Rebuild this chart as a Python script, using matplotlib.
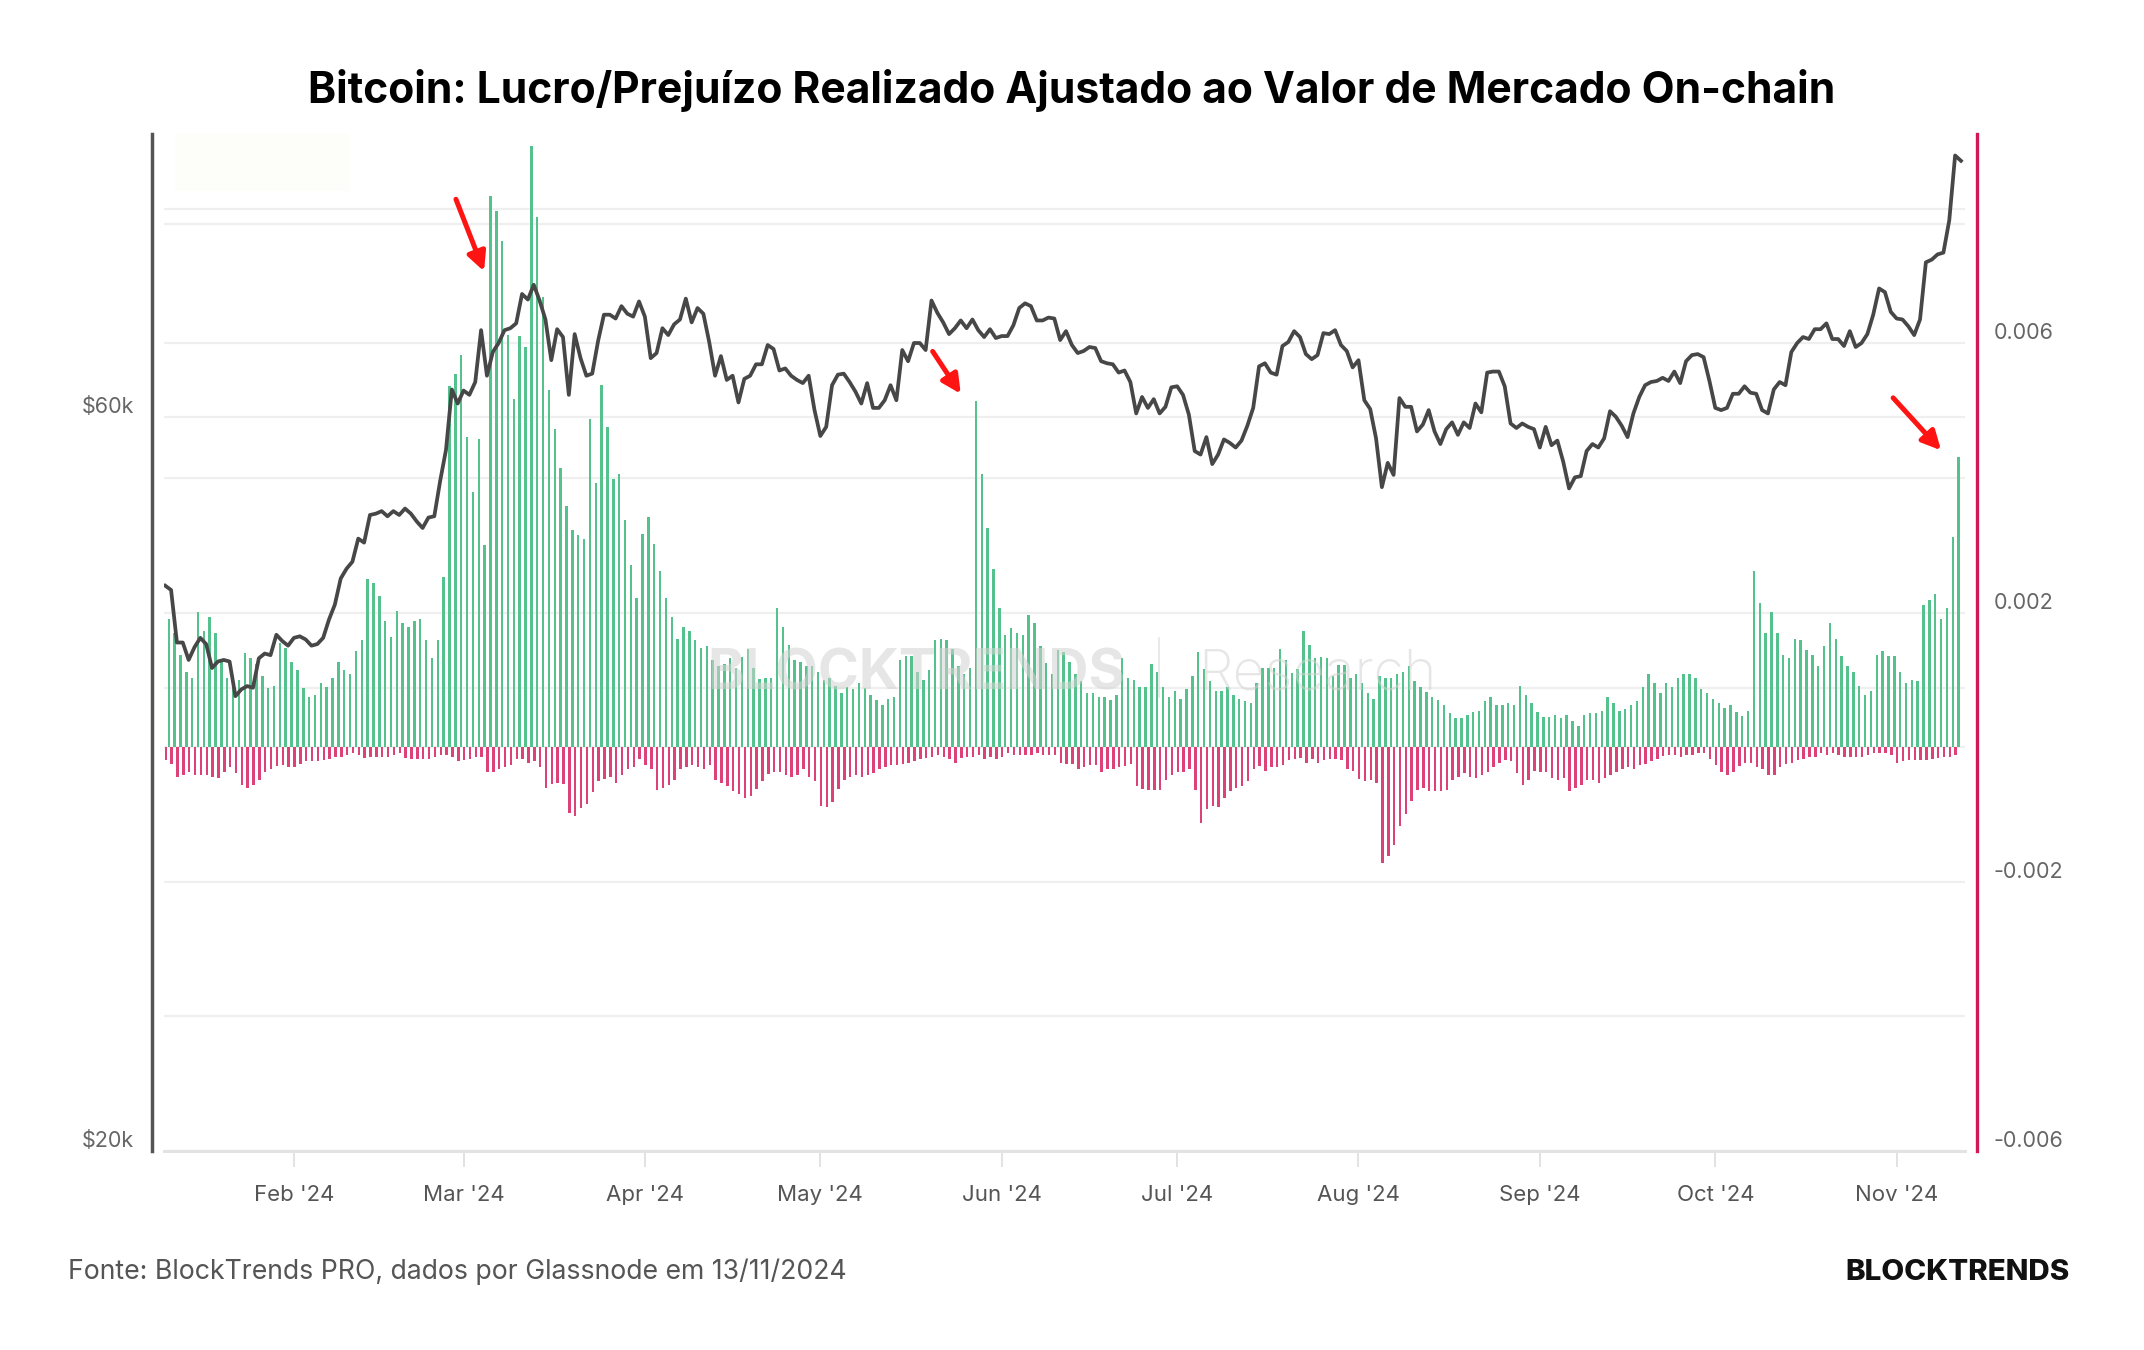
import matplotlib
matplotlib.use("Agg")
import matplotlib.pyplot as plt
import matplotlib.dates as mdates
from matplotlib.lines import Line2D
from matplotlib.patches import Rectangle
from matplotlib.ticker import NullLocator, NullFormatter
from matplotlib.transforms import blended_transform_factory, ScaledTranslation
import numpy as np
import pandas as pd

plt.rcParams['font.family'] = ['Inter', 'DejaVu Sans']

# BTC daily price (thousand USD), one value per day from 2024-01-10
btc_price_k = [
    46.6, 46.3, 42.8, 42.8, 41.7, 42.5, 43.1, 42.7, 41.2, 41.6, 41.7, 41.6, 39.5, 39.9, 40.1, 40.0,
    41.8, 42.1, 42.0, 43.3, 42.9, 42.6,
    43.1, 43.2, 43.0, 42.6, 42.7, 43.1, 44.3, 45.3, 47.1, 47.8, 48.3, 50.0, 49.7, 51.8, 51.9, 52.1,
    51.7, 52.1, 51.8, 52.3, 51.9, 51.3, 50.8, 51.6, 51.7, 54.5, 57.1, 62.5, 61.2,
    62.4, 62.0, 63.2, 68.3, 63.8, 66.1, 67.0, 68.3, 68.5, 69.0, 72.1, 71.5, 73.1, 71.4, 69.4, 65.3,
    68.4, 67.6, 62.0, 67.9, 65.5, 63.8, 64.0, 67.2, 69.9, 69.9, 69.5, 70.8, 70.0, 69.7, 71.3,
    69.7, 65.5, 66.0, 68.5, 67.8, 68.9, 69.4, 71.6, 69.1, 70.6, 70.0, 67.1, 63.8, 65.7, 63.4, 63.8,
    61.3, 63.5, 63.8, 64.9, 64.9, 66.8, 66.4, 64.3, 64.5, 63.8, 63.4, 63.1, 63.8, 60.6,
    58.3, 59.1, 62.9, 63.9, 64.0, 63.2, 62.3, 61.2, 63.1, 60.8, 60.8, 61.5, 62.9, 61.5, 66.3, 65.2,
    67.0, 67.0, 66.3, 71.4, 70.1, 69.1, 67.9, 68.5, 69.3, 68.5, 69.4, 68.3, 67.6, 68.4, 67.5,
    67.7, 67.7, 68.8, 70.6, 71.1, 70.8, 69.3, 69.3, 69.6, 69.5, 67.3, 68.2, 66.8, 66.0, 66.2, 66.6,
    66.5, 65.2, 65.0, 64.9, 64.1, 64.3, 63.2, 60.3, 61.8, 60.8, 61.6, 60.3, 60.9, 62.7,
    62.8, 62.0, 60.2, 57.0, 56.7, 58.2, 55.9, 56.7, 58.0, 57.7, 57.3, 57.9, 59.2, 60.8, 64.7, 65.0,
    64.1, 63.9, 66.7, 67.1, 68.2, 67.6, 65.9, 65.4, 65.8, 68.0, 67.9, 68.3, 66.8, 66.2, 64.6,
    65.3, 61.5, 60.7, 58.1, 54.0, 56.0, 55.0, 61.7, 60.9, 60.9, 58.7, 59.3, 60.6, 58.7, 57.6, 58.9,
    59.5, 58.4, 59.5, 59.0, 61.2, 60.4, 64.1, 64.2, 64.2, 62.8, 59.4, 59.0, 59.4, 59.1, 58.9,
    57.3, 59.1, 57.5, 57.9, 56.1, 53.9, 54.8, 54.9, 57.0, 57.6, 57.3, 58.1, 60.5, 60.0, 59.2, 58.2,
    60.3, 61.8, 62.9, 63.2, 63.3, 63.6, 63.3, 64.2, 63.1, 65.2, 65.8, 65.9, 65.6, 63.3,
    60.8, 60.6, 60.8, 62.1, 62.1, 62.8, 62.2, 62.1, 60.6, 60.3, 62.5, 63.2, 62.9, 66.1, 67.0, 67.6,
    67.4, 68.4, 68.4, 69.0, 67.4, 67.4, 66.7, 68.2, 66.6, 67.0, 67.9, 69.9, 72.7, 72.3, 70.2,
    69.5, 69.4, 68.7, 67.8, 69.4, 75.6, 75.9, 76.5, 76.7, 80.5, 88.7, 88.0,
]

# realized profit adjusted by market cap (x 1e-3), one bar per day from 2024-01-10
profit_e3 = [
    1.91, 1.69, 1.37, 1.12, 1.03, 2.01, 1.72, 1.93, 1.69, 1.30,
    1.03, 0.95, 1.00, 1.40, 1.32, 1.23, 1.05, 0.88, 0.91, 1.55,
    1.48, 1.27, 1.15, 0.88, 0.75, 0.77, 0.95, 0.89, 1.03, 1.27,
    1.15, 1.09, 1.43, 1.59, 2.50, 2.44, 2.24, 1.87, 1.64, 2.03,
    1.84, 1.79, 1.87, 1.90, 1.59, 1.32, 1.59, 2.53, 5.36, 5.54,
    5.82, 4.61, 3.79, 4.58, 3.00, 8.19, 7.96, 7.52, 6.13, 5.18,
    6.11, 5.94, 8.93, 7.87, 6.69, 5.30, 4.72, 4.15, 3.58, 3.22,
    3.15, 3.10, 4.88, 3.92, 5.38, 4.75, 3.99, 4.06, 3.37, 2.71,
    2.21, 3.17, 3.42, 3.02, 2.62, 2.21, 1.93, 1.61, 1.78, 1.73,
    1.59, 1.48, 1.50, 1.29, 1.20, 1.23, 1.32, 1.17, 1.34, 1.46,
    1.17, 1.02, 1.03, 1.03, 2.07, 1.79, 1.52, 1.30, 1.27, 1.20,
    1.20, 1.12, 1.00, 1.03, 0.91, 0.80, 0.89, 0.86, 0.95, 0.88,
    0.77, 0.70, 0.63, 0.72, 0.75, 1.30, 1.35, 1.35, 1.12, 1.00,
    1.15, 1.59, 1.60, 1.59, 1.46, 1.20, 1.09, 1.17, 5.15, 4.06,
    3.26, 2.65, 2.07, 1.67, 1.77, 1.69, 1.67, 1.96, 1.84, 1.50,
    1.25, 1.09, 1.44, 1.41, 1.27, 1.09, 0.98, 0.80, 0.80, 0.75,
    0.75, 0.70, 0.77, 1.32, 1.03, 1.00, 0.89, 0.89, 1.23, 1.12,
    0.89, 0.75, 0.84, 0.72, 0.86, 1.05, 1.41, 1.16, 0.98, 0.84,
    0.84, 0.89, 0.77, 0.72, 0.68, 0.66, 0.96, 1.17, 1.17, 1.17,
    1.46, 1.30, 1.10, 1.16, 1.72, 1.52, 1.32, 1.34, 1.32, 1.05,
    1.22, 1.22, 1.03, 1.09, 0.96, 0.80, 0.72, 1.05, 1.03, 1.03,
    1.09, 1.12, 1.20, 0.98, 0.89, 0.82, 0.75, 0.70, 0.63, 0.51,
    0.43, 0.43, 0.48, 0.52, 0.53, 0.68, 0.75, 0.63, 0.63, 0.66,
    0.63, 0.91, 0.77, 0.66, 0.52, 0.45, 0.45, 0.48, 0.43, 0.48,
    0.39, 0.31, 0.48, 0.51, 0.51, 0.53, 0.75, 0.66, 0.53, 0.56,
    0.63, 0.68, 0.89, 1.09, 0.96, 0.80, 0.96, 0.89, 1.03, 1.09,
    1.09, 1.03, 0.86, 0.80, 0.72, 0.66, 0.58, 0.63, 0.52, 0.46,
    0.53, 2.62, 2.14, 1.69, 2.01, 1.69, 1.37, 1.32, 1.60, 1.59,
    1.44, 1.37, 1.20, 1.50, 1.84, 1.61, 1.35, 1.20, 1.12, 0.91,
    0.77, 0.84, 1.37, 1.43, 1.35, 1.35, 1.12, 0.95, 1.00, 0.98,
    2.11, 2.19, 2.28, 1.91, 2.07, 3.12, 4.31,
]

# realized loss adjusted by market cap (x 1e-3, drawn downwards)
loss_e3 = [
    0.19, 0.25, 0.44, 0.42, 0.37, 0.41, 0.41, 0.42, 0.44, 0.46,
    0.37, 0.30, 0.39, 0.56, 0.60, 0.56, 0.49, 0.37, 0.32, 0.28,
    0.26, 0.30, 0.30, 0.25, 0.21, 0.21, 0.21, 0.19, 0.18, 0.14,
    0.14, 0.11, 0.09, 0.12, 0.16, 0.14, 0.14, 0.14, 0.14, 0.12,
    0.09, 0.16, 0.18, 0.18, 0.18, 0.18, 0.14, 0.12, 0.12, 0.14,
    0.21, 0.19, 0.18, 0.14, 0.14, 0.37, 0.37, 0.32, 0.30, 0.26,
    0.18, 0.18, 0.23, 0.21, 0.30, 0.60, 0.55, 0.53, 0.55, 0.98,
    1.03, 0.90, 0.85, 0.67, 0.51, 0.48, 0.44, 0.53, 0.41, 0.33,
    0.30, 0.18, 0.26, 0.33, 0.63, 0.60, 0.56, 0.49, 0.33, 0.30,
    0.26, 0.30, 0.32, 0.26, 0.49, 0.53, 0.58, 0.65, 0.69, 0.75,
    0.73, 0.62, 0.50, 0.40, 0.37, 0.37, 0.41, 0.44, 0.42, 0.33,
    0.44, 0.51, 0.87, 0.89, 0.82, 0.62, 0.49, 0.44, 0.42, 0.44,
    0.42, 0.39, 0.33, 0.30, 0.26, 0.26, 0.25, 0.23, 0.21, 0.18,
    0.16, 0.14, 0.12, 0.14, 0.18, 0.23, 0.16, 0.14, 0.14, 0.12,
    0.18, 0.14, 0.18, 0.14, 0.09, 0.11, 0.12, 0.12, 0.11, 0.09,
    0.11, 0.11, 0.12, 0.23, 0.25, 0.25, 0.32, 0.30, 0.26, 0.26,
    0.37, 0.32, 0.32, 0.30, 0.28, 0.25, 0.58, 0.62, 0.63, 0.63,
    0.63, 0.49, 0.42, 0.37, 0.37, 0.32, 0.63, 1.12, 0.92, 0.87,
    0.89, 0.76, 0.65, 0.60, 0.58, 0.51, 0.32, 0.28, 0.35, 0.30,
    0.30, 0.26, 0.19, 0.18, 0.16, 0.23, 0.18, 0.23, 0.19, 0.18,
    0.18, 0.19, 0.33, 0.35, 0.48, 0.51, 0.49, 0.53, 1.72, 1.62,
    1.46, 1.17, 0.99, 0.80, 0.63, 0.60, 0.65, 0.65, 0.65, 0.63,
    0.49, 0.44, 0.39, 0.44, 0.46, 0.42, 0.37, 0.30, 0.23, 0.19,
    0.21, 0.39, 0.56, 0.49, 0.35, 0.37, 0.37, 0.46, 0.49, 0.46,
    0.65, 0.60, 0.56, 0.49, 0.49, 0.53, 0.46, 0.42, 0.37, 0.33,
    0.30, 0.32, 0.26, 0.25, 0.21, 0.17, 0.13, 0.12, 0.12, 0.14,
    0.11, 0.12, 0.09, 0.09, 0.18, 0.26, 0.37, 0.42, 0.37, 0.28,
    0.23, 0.23, 0.30, 0.32, 0.42, 0.42, 0.30, 0.25, 0.23, 0.19,
    0.18, 0.14, 0.14, 0.09, 0.11, 0.09, 0.12, 0.14, 0.14, 0.14,
    0.14, 0.11, 0.09, 0.09, 0.09, 0.11, 0.23, 0.21, 0.19, 0.19,
    0.19, 0.19, 0.18, 0.16, 0.14, 0.14, 0.12,
]

price_ticks = [20000, 40000, 60000, 80000]
price_labels = ['$20k', '', '$60k', '']
ratio_ticks = [-0.006, -0.004, -0.002, 0.0, 0.002, 0.004, 0.006, 0.008]
ratio_labels = ['-0.006', '', '-0.002', '', '0.002', '', '0.006', '']

start = pd.Timestamp('2024-01-10')
x0 = mdates.date2num(start)
price_x = mdates.date2num(pd.date_range(start, periods=len(btc_price_k), freq='D'))
bar_x = mdates.date2num(pd.date_range(start, periods=len(profit_e3), freq='D'))

green = '#55c28d'
red = '#dc4277'
grid_c = '#efefef'

fig = plt.figure(figsize=(21.44, 13.5), dpi=100)
ax = fig.add_axes([164 / 2144, 1 - 1151 / 1350, 1801 / 2144, 1017 / 1350])
ax2 = ax.twinx()
ax.set_zorder(ax2.get_zorder() + 1)
ax.patch.set_visible(False)

# bars on the right-hand scale
ax2.bar(bar_x + 0.6, np.array(profit_e3) * 1e-3, width=0.42, color=green, linewidth=0, zorder=2)
ax2.bar(bar_x + 0.1, -np.array(loss_e3) * 1e-3, width=0.42, color=red, linewidth=0, zorder=2)
ax2.set_ylim(-0.006, 0.00911)
ax2.set_yticks(ratio_ticks)
ax2.set_yticklabels(ratio_labels)
ax2.set_axisbelow(True)
ax2.grid(axis='y', color=grid_c, lw=1.6)

# price line on the left-hand log scale
ax.plot(price_x, np.array(btc_price_k) * 1000, color='#474747', lw=2.7,
        solid_joinstyle='round', zorder=3)
ax.set_yscale('log')
ax.set_ylim(20000, 91600)
ax.set_yticks(price_ticks)
ax.set_yticklabels(price_labels)
ax.yaxis.set_minor_locator(NullLocator())
ax.yaxis.set_minor_formatter(NullFormatter())

# price gridlines, drawn underneath the bars
trans = blended_transform_factory(ax2.transAxes, ax.transData)
for p in price_ticks[1:]:
    ax2.plot([0, 1], [p, p], transform=trans, color=grid_c, lw=1.6, zorder=0.6)

ax.set_xlim(x0 - 0.21, price_x[-1] + 0.69)
ax.xaxis.set_major_locator(mdates.MonthLocator())
ax.xaxis.set_major_formatter(mdates.DateFormatter("%b '%y"))

for s in ['top', 'right']:
    ax.spines[s].set_visible(False)
ax.spines['left'].set_position(('outward', 8.6))
ax.spines['left'].set_color('#555555')
ax.spines['left'].set_linewidth(2.5)
ax.spines['bottom'].set_color('#e3e3e3')
ax.spines['bottom'].set_linewidth(2.2)
for s in ['top', 'left', 'bottom']:
    ax2.spines[s].set_visible(False)
ax2.spines['right'].set_position(('outward', 8.6))
ax2.spines['right'].set_color('#cf1b55')
ax2.spines['right'].set_linewidth(2.4)

ax.tick_params(axis='y', length=0, pad=13, labelsize=15.5, labelcolor='#666666')
ax2.tick_params(axis='y', length=0, pad=12, labelsize=15.5, labelcolor='#666666')
ax.tick_params(axis='x', length=11.5, width=1.2, color='#dddddd', pad=13,
               labelsize=16, labelcolor='#555555')

lift = ScaledTranslation(0, 0.12, fig.dpi_scale_trans)
for lab in ax.get_yticklabels() + ax2.get_yticklabels():
    lab.set_transform(lab.get_transform() + lift)


def arrow(t0, v0, t1, v1):
    ax2.annotate('', xy=(x0 + t1, v1 * 1e-3), xytext=(x0 + t0, v0 * 1e-3),
                 arrowprops=dict(arrowstyle='-|>', color='#ff1414', lw=3.6,
                                 mutation_scale=28, shrinkA=0, shrinkB=0),
                 zorder=5)


arrow(49.7, 8.14, 54.5, 7.07)
arrow(131.2, 5.88, 136.0, 5.25)
arrow(295.4, 5.19, 303.6, 4.41)

# faint box in the top-left corner of the plot
fig.patches.append(Rectangle((175 / 2144, 1 - 191 / 1350), 174 / 2144, 57 / 1350,
                             transform=fig.transFigure, facecolor='#fdfdfa',
                             edgecolor='none', zorder=0.5))

# watermark
fig.text(916 / 2144, 1 - 674 / 1350, 'BLOCKTRENDS', ha='center', va='center',
         fontsize=40, fontweight='bold', color='#d2d2d2', alpha=0.55, zorder=4)
fig.add_artist(Line2D([1159 / 2144, 1159 / 2144], [1 - 697 / 1350, 1 - 638 / 1350],
                      transform=fig.transFigure, color='#dedede', lw=1.2, alpha=0.8))
fig.text(1198 / 2144, 1 - 674 / 1350, 'Research', ha='left', va='center',
         fontsize=40, fontweight='light', color='#d2d2d2', alpha=0.55, zorder=4)

fig.text(0.5, 1 - 91 / 1350,
         'Bitcoin: Lucro/Prejuízo Realizado Ajustado ao Valor de Mercado On-chain',
         ha='center', va='center', fontsize=30.7, fontweight='bold', color='#000000')
fig.text(68 / 2144, 1 - 1272 / 1350,
         'Fonte: BlockTrends PRO, dados por Glassnode em 13/11/2024',
         ha='left', va='center', fontsize=19.2, color='#555555')
fig.text(2070 / 2144, 1 - 1272 / 1350, 'BLOCKTRENDS', ha='right', va='center',
         fontsize=21.3, fontweight='heavy', color='#111111')

fig.savefig('out.png', dpi=100, facecolor='white')
